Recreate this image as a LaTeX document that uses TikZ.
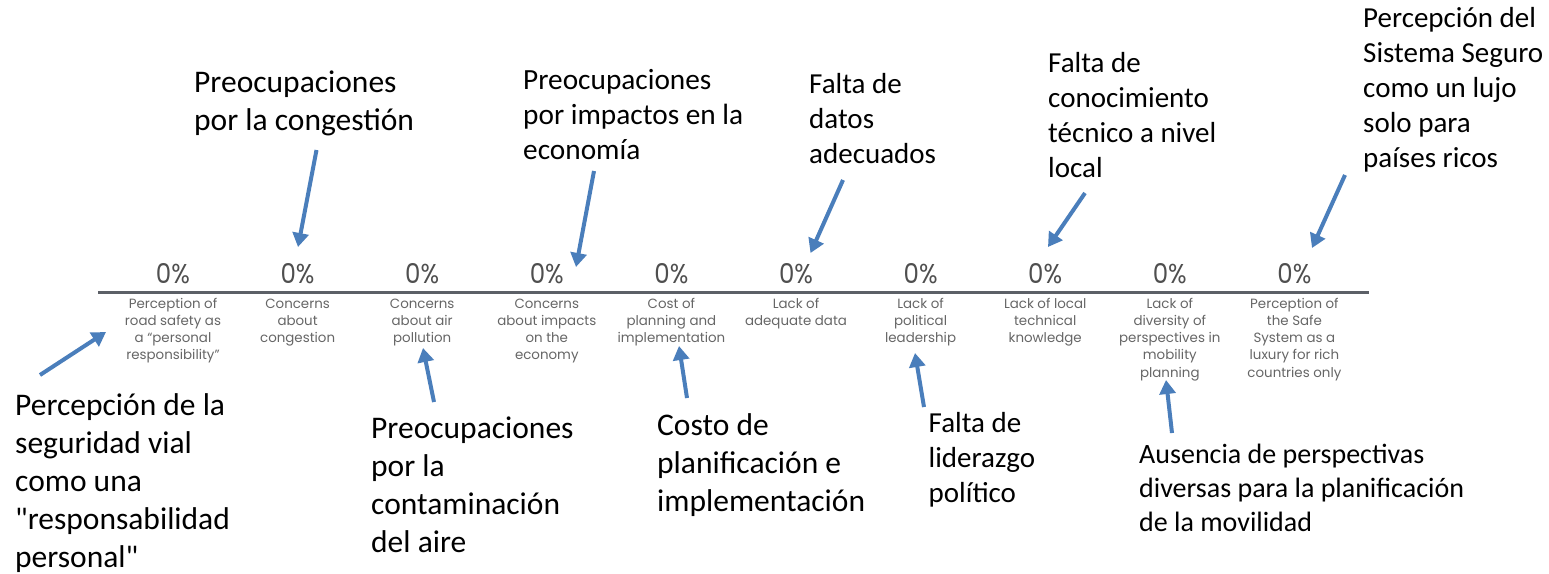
\documentclass[tikz,border=0pt]{standalone}
\usepackage{fontspec}
\setmainfont{Carlito}[Ligatures=TeXOff]
\newfontfamily\gothic{Poppins}
\usetikzlibrary{arrows.meta}
\definecolor{arrowblue}{HTML}{4A7EBB}
\definecolor{axisgray}{HTML}{5C6067}
\definecolor{pctgray}{HTML}{4F4F4F}
\definecolor{labgray}{HTML}{666666}
\newcommand\pct{\resizebox{34pt}{20pt}{\gothic 0\%}}
\newcommand\enlab[1]{\vtop{\gothic\fontsize{13.4}{17.3}\selectfont\halign{\hfil##\hfil\cr#1\crcr}}}
\newcommand\ann[3]{\vtop{\fontsize{#1}{#2}\selectfont\halign{##\hfil\cr#3\crcr}}}
\tikzset{
  pctnode/.style={anchor=base, inner sep=0, text=pctgray},
  labnode/.style={anchor=base, inner sep=0, text=labgray},
  annnode/.style={anchor=base west, inner sep=0, text=black},
  arr/.style={draw=arrowblue, line width=4pt, -{Triangle[length=14pt,width=16pt]}, fill=arrowblue},
  axis/.style={draw=axisgray, line width=3.5pt}
}
\begin{document}
\begin{tikzpicture}[x=1pt,y=-1pt]
\fill[white] (0,0) rectangle (1549,573);
\useasboundingbox (0,0) rectangle (1549,573);

% axis
\coordinate (axl) at (98,292.5);
\coordinate (axr) at (1369,292.5);
\draw[axis] (axl) -- (axr);

% percentages
\foreach \i/\x in {1/173,2/297.6,3/422.2,4/546.8,5/671.4,6/796,7/920.6,8/1045.2,9/1169.8,10/1294.4}{
  \node[pctnode] (p\i) at (\x,283) {\pct};
}

% English category labels
\node[labnode] (l1) at (173,308) {\enlab{Perception of\cr road safety as\cr a “personal\cr responsibility”}};
\node[labnode] (l2) at (297.6,308) {\enlab{Concerns\cr about\cr congestion}};
\node[labnode] (l3) at (422.2,308) {\enlab{Concerns\cr about air\cr pollution}};
\node[labnode] (l4) at (546.8,308) {\enlab{Concerns\cr about impacts\cr on the\cr economy}};
\node[labnode] (l5) at (671.4,308) {\enlab{Cost of\cr planning and\cr implementation}};
\node[labnode] (l6) at (796,308) {\enlab{Lack of\cr adequate data}};
\node[labnode] (l7) at (920.6,308) {\enlab{Lack of\cr political\cr leadership}};
\node[labnode] (l8) at (1045.2,308) {\enlab{Lack of local\cr technical\cr knowledge}};
\node[labnode] (l9) at (1169.8,308) {\enlab{Lack of\cr diversity of\cr perspectives in\cr mobility\cr planning}};
\node[labnode] (l10) at (1294.4,308) {\enlab{Perception of\cr the Safe\cr System as a\cr luxury for rich\cr countries only}};

% Spanish annotations (top)
\node[annnode] (a2) at (194,92) {\ann{31.5}{38}{Preocupaciones\cr por la congestión}};
\node[annnode] (a4) at (523,89) {\ann{29.3}{35}{Preocupaciones\cr por impactos en la\cr economía}};
\node[annnode] (a6) at (809,93) {\ann{29}{35}{Falta de\cr datos\cr adecuados}};
\node[annnode] (a8) at (1048,72) {\ann{29}{35}{Falta de\cr conocimiento\cr técnico a nivel\cr local}};
\node[annnode] (a10) at (1363,27) {\ann{29}{35}{Percepción del\cr Sistema Seguro\cr como un lujo\cr solo para\cr países ricos}};

% Spanish annotations (bottom)
\node[annnode] (a1) at (15,415) {\ann{31.5}{38}{Percepción de la\cr seguridad vial\cr como una\cr "responsabilidad\cr personal"}};
\node[annnode] (a3) at (371,438) {\ann{31.5}{38}{Preocupaciones\cr por la\cr contaminación\cr del aire}};
\node[annnode] (a5) at (657,435) {\ann{31.5}{38}{Costo de\cr planificación e\cr implementación}};
\node[annnode] (a7) at (928.5,432) {\ann{29}{35}{Falta de\cr liderazgo\cr político}};
\node[annnode] (a9) at (1139,463) {\ann{28}{34}{Ausencia de perspectivas\cr diversas para la planificación\cr de la movilidad}};

% arrow coordinates
\coordinate (t2) at (316.5,150);  \coordinate (h2) at (298,247);
\coordinate (t4) at (594,171);    \coordinate (h4) at (576,267);
\coordinate (t6) at (843,180);    \coordinate (h6) at (810.5,253);
\coordinate (t8) at (1085,193);   \coordinate (h8) at (1048,247);
\coordinate (t10) at (1345,175);  \coordinate (h10) at (1312,248);
\coordinate (t1) at (40,375);     \coordinate (h1) at (106,332);
\coordinate (t3) at (434,402);    \coordinate (h3) at (423,348);
\coordinate (t5) at (687,398);    \coordinate (h5) at (679,346);
\coordinate (t7) at (924,407);    \coordinate (h7) at (915,353);
\coordinate (t9) at (1172,433);   \coordinate (h9) at (1166,380);

\foreach \k in {1,...,10}{
  \draw[arr] (t\k) -- (h\k);
}
\end{tikzpicture}
\end{document}
